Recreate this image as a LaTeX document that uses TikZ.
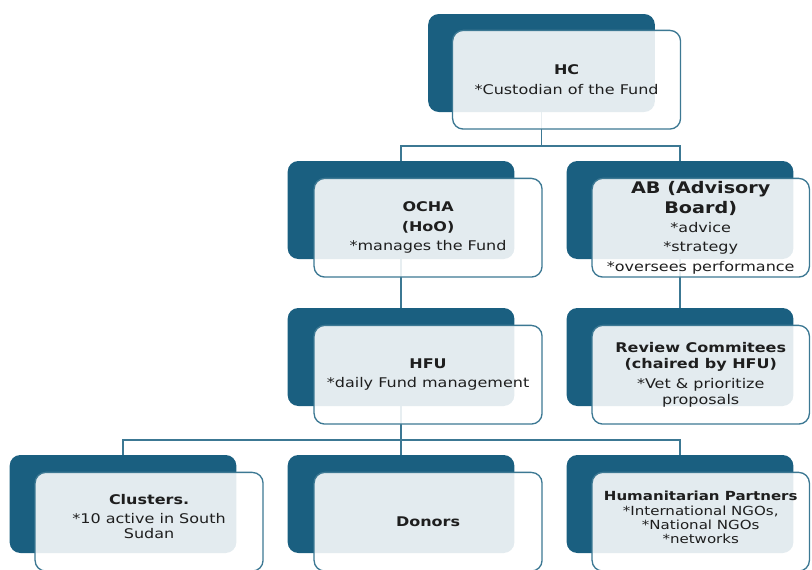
\documentclass[tikz,border=0pt]{standalone}
\usepackage{fontspec}
\setmainfont{DejaVu Sans}[FakeStretch=1.2]
\usetikzlibrary{backgrounds}

\definecolor{fundDark}{HTML}{1A5F80}
\definecolor{fundLine}{HTML}{3C7893}
\definecolor{fundText}{HTML}{1E1E1E}

\begin{document}
\begin{tikzpicture}[x=0.75pt, y=-0.75pt, back/.style={rectangle, rounded corners=8pt, fill=fundDark, minimum width=170pt, minimum height=73.5pt, inner sep=0pt}, front/.style={rectangle, rounded corners=8pt, draw=fundLine, line width=1pt, fill=white, fill opacity=0.88, text opacity=1, text=fundText, minimum width=171pt, minimum height=74pt, align=center, inner sep=2pt, anchor=north west}, narrow/.style={minimum width=163pt}, link/.style={draw=fundLine, line width=1.2pt}]
\fontsize{10pt}{14.5pt}\selectfont
  \clip (0,0) rectangle (812,569);
  \useasboundingbox (0,0) rectangle (812,569);

  % dark panels
  \node[back] (hcb) at (541.5,63) {};
  \node[back] (ochab) at (401,210) {};
  \node[back] (abb) at (680,210) {};
  \node[back] (hfub) at (401,357) {};
  \node[back] (revb) at (680,357) {};
  \node[back] (clb) at (123,504) {};
  \node[back] (donb) at (401,504) {};
  \node[back] (hpb) at (680,504) {};

  % text cards
  \node[front] (hc) at ([shift={(24,16)}]hcb.north west) {\textbf{HC}\\{}*Custodian of the Fund};
  \node[front] (ocha) at ([shift={(26,17)}]ochab.north west) {\textbf{OCHA}\\\textbf{(HoO)}\\{}*manages the Fund};
  \node[front, narrow] (ab) at ([shift={(25,17)}]abb.north west) {\textbf{\large AB (Advisory}\\\textbf{\large Board)}\\{}*advice\\{}*strategy\\{}*oversees performance};
  \node[front] (hfu) at ([shift={(26,17)}]hfub.north west) {\textbf{HFU}\\{}*daily Fund management};
  \node[front, narrow] (rev) at ([shift={(25,17)}]revb.north west) {\textbf{Review Commitees}\\[-2.5pt]\textbf{(chaired by HFU)}\\{}*Vet \& prioritize\\[-2.5pt]proposals};
  \node[front] (cl) at ([shift={(25,17)}]clb.north west) {\textbf{Clusters.}\\{}*10 active in South\\[-3.5pt]Sudan\\[-6pt]~};
  \node[front] (don) at ([shift={(26,17)}]donb.north west) {\textbf{Donors}};
  \node[front, narrow, font=\fontsize{9.4pt}{13pt}\selectfont] (hp) at ([shift={(25,17)}]hpb.north west) {\textbf{Humanitarian Partners}\\[-1.5pt]{}*International NGOs,\\[-3pt]{}*National NGOs\\[-2.5pt]{}*networks\\[-6pt]~};

  \coordinate (topbus) at (0,146);
  \coordinate (lowbus) at (0,440);

  \begin{scope}[on background layer]
    \draw[link] (hcb.south) -- (hcb |- topbus);
    \draw[link] (ochab.north) |- (hcb |- topbus) -| (abb.north);
    \draw[link] (ochab.south) -- (hfub.north);
    \draw[link] (abb.south) -- (revb.north);
    \draw[link] (hfub.south) -- (hfub |- lowbus);
    \draw[link] (clb.north) |- (hfub |- lowbus) -| (hpb.north);
    \draw[link] (donb.north) -- (hfub |- lowbus);
  \end{scope}
\end{tikzpicture}
\end{document}
